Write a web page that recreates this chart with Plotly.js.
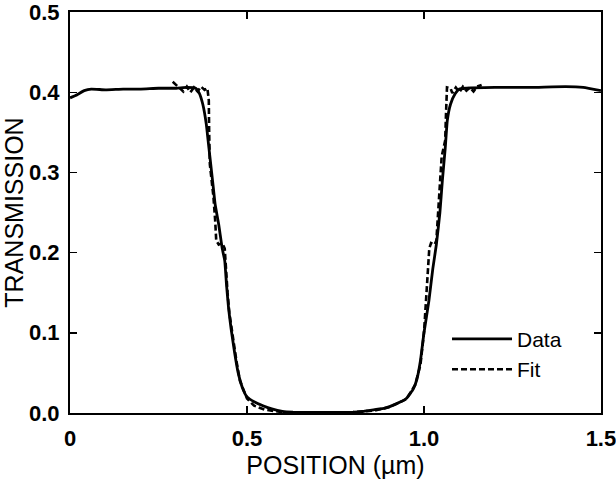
<!DOCTYPE html>
<html>
<head>
<meta charset="utf-8">
<script src="https://cdn.plot.ly/plotly-3.0.1.min.js"></script>
<style>html,body{margin:0;padding:0;background:#fff;}#chart{width:616px;height:481px;}</style>
</head>
<body>
<div id="chart"></div>
<script>
// Measured transmission (solid)
const dataX = [0.00,0.02,0.04,0.06,0.10,0.15,0.20,0.25,0.30,0.33,0.355,0.365,0.375,0.385,0.39,0.395,0.40,0.405,0.41,0.42,0.43,0.437,0.442,0.448,0.455,0.465,0.475,0.49,0.50,0.52,0.545,0.57,0.60,0.63,0.70,0.80,0.83,0.86,0.89,0.92,0.95,0.97,0.98,0.99,1.00,1.014,1.025,1.035,1.045,1.052,1.06,1.066,1.075,1.088,1.10,1.12,1.20,1.30,1.40,1.45,1.50];
const dataT = [0.393,0.397,0.402,0.404,0.403,0.404,0.404,0.405,0.405,0.406,0.405,0.399,0.385,0.360,0.340,0.320,0.300,0.280,0.260,0.235,0.205,0.190,0.160,0.130,0.105,0.075,0.050,0.028,0.020,0.014,0.009,0.005,0.002,0.001,0.0005,0.001,0.002,0.004,0.006,0.011,0.018,0.030,0.042,0.065,0.100,0.140,0.180,0.210,0.250,0.290,0.330,0.365,0.385,0.398,0.404,0.405,0.406,0.406,0.407,0.406,0.402];
// Fitted transmission (dashed)
const fitX = [0.29,0.30,0.31,0.32,0.33,0.34,0.35,0.36,0.37,0.38,0.388,0.392,0.393,0.395,0.40,0.405,0.41,0.413,0.42,0.43,0.437,0.44,0.445,0.45,0.458,0.47,0.48,0.50,0.52,0.55,0.60,0.70,0.80,0.86,0.90,0.95,0.975,0.99,1.00,1.005,1.01,1.015,1.02,1.03,1.035,1.04,1.045,1.05,1.055,1.06,1.062,1.063,1.065,1.075,1.08,1.09,1.10,1.11,1.12,1.13,1.14,1.15,1.163];
const fitT = [0.413,0.409,0.404,0.401,0.407,0.400,0.406,0.401,0.407,0.403,0.405,0.390,0.350,0.310,0.290,0.270,0.240,0.215,0.210,0.212,0.205,0.180,0.150,0.125,0.100,0.065,0.040,0.018,0.009,0.004,0.001,0.0,0.001,0.003,0.007,0.017,0.035,0.060,0.100,0.140,0.180,0.205,0.212,0.210,0.215,0.250,0.290,0.320,0.330,0.340,0.370,0.401,0.406,0.405,0.399,0.406,0.400,0.407,0.402,0.406,0.401,0.407,0.409];
const xTickVals = [0, 0.5, 1.0, 1.5];
const xTickText = ["0", "0.5", "1.0", "1.5"];
const yTickVals = [0, 0.1, 0.2, 0.3, 0.4, 0.5];
const yTickText = ["0.0", "0.1", "0.2", "0.3", "0.4", "0.5"];

const FONT = "Liberation Sans, Arial, Helvetica, sans-serif";
const traces = [
  {x: dataX, y: dataT, name: "Data", mode: "lines", type: "scatter",
   line: {color: "#000", width: 2.8, shape: "spline", smoothing: 0.4}},
  {x: fitX, y: fitT, name: "Fit", mode: "lines", type: "scatter",
   line: {color: "#000", width: 2.6, dash: "6px,3px"}}
];
const axisCommon = {
  showgrid: false, zeroline: false, showline: true, linecolor: "#000", linewidth: 2,
  mirror: "ticks", ticks: "inside", ticklen: 7, tickwidth: 1.5, tickcolor: "#000",
  tickfont: {family: FONT, size: 22, color: "#000", weight: "bold"},
  ticklabeloverflow: "allow", automargin: false,
  fixedrange: true
};
const layout = {
  width: 616, height: 481,
  margin: {l: 70, r: 15, t: 12, b: 68},
  paper_bgcolor: "#fff", plot_bgcolor: "#fff",
  showlegend: true,
  legend: {x: 0.71, y: 0.235, xanchor: "left", yanchor: "top", bgcolor: "rgba(0,0,0,0)",
           font: {family: FONT, size: 21, color: "#000"}, itemwidth: 60, tracegroupgap: 0},
  xaxis: Object.assign({}, axisCommon, {
    range: [-0.0002, 1.5002], tickvals: xTickVals, ticktext: xTickText, ticklabelstandoff: 5,
    title: {text: "POSITION (µm)", font: {family: FONT, size: 25, color: "#000"}, standoff: 6}
  }),
  yaxis: Object.assign({}, axisCommon, {
    range: [-0.0001, 0.5001], tickvals: yTickVals, ticktext: yTickText, ticklabelstandoff: 4,
    title: {text: "TRANSMISSION", font: {family: FONT, size: 25, color: "#000"}, standoff: 6}
  })
};
Plotly.newPlot("chart", traces, layout, {staticPlot: true, displayModeBar: false});
</script>
</body>
</html>
